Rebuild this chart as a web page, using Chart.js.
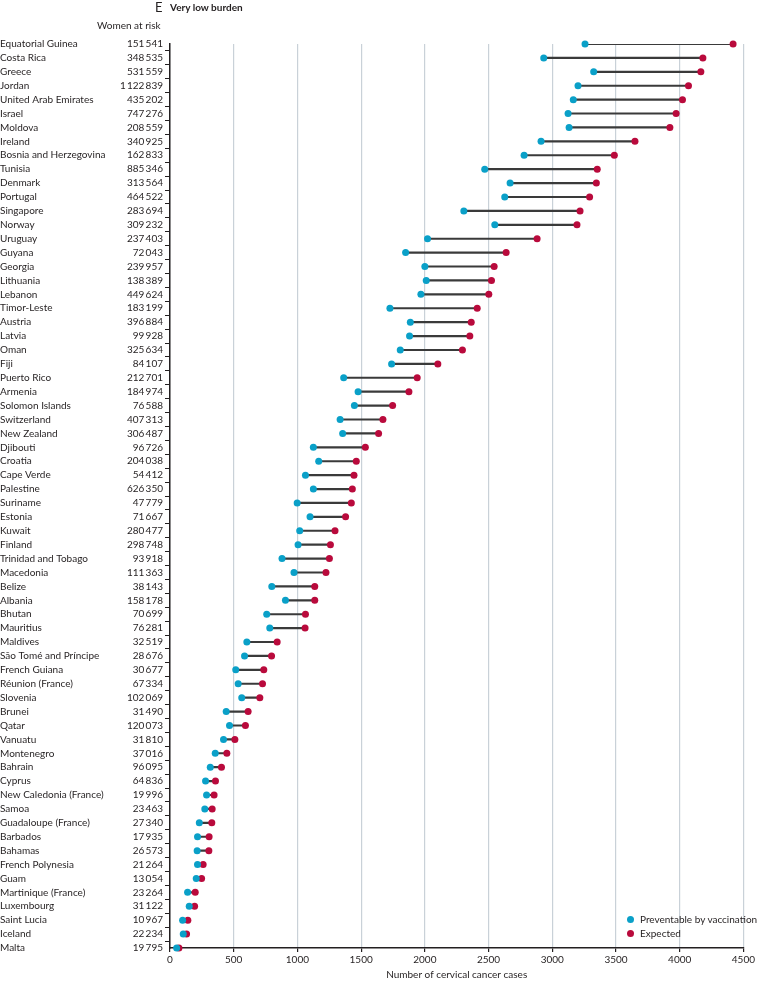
<!DOCTYPE html>
<html>
<head>
<meta charset="utf-8">
<script src="https://cdn.jsdelivr.net/npm/chart.js@4/dist/chart.umd.min.js"></script>
<style>
    body { margin: 0; background: #fff; }
    #wrap { position: relative; width: 757px; height: 981px; font-family: Lato, sans-serif; color: #231f20; }
    .txt { position: absolute; white-space: nowrap; font-size: 10px; line-height: 12px; }
    .dot { display: inline-block; width: 7px; height: 7px; border-radius: 50%; position: absolute; }
</style>
</head>
<body>
<div id="wrap">
    <canvas id="dumbbell"></canvas>
    <div class="txt" style="left:155px; top:0px; font-size:13px; line-height:14px;">E</div>
    <div class="txt" style="left:170px; top:1px; font-weight:bold;">Very low burden</div>
    <div class="txt" style="left:97px; top:19px;">Women at risk</div>
    <span class="dot" style="left:627px; top:916px; background:#0aa0c8;"></span>
    <div class="txt" style="left:640px; top:913px;">Preventable by vaccination</div>
    <span class="dot" style="left:627px; top:930px; background:#b90a3c;"></span>
    <div class="txt" style="left:640px; top:927px;">Expected</div>
</div>
<script>
// ==============================================================
// data
// ==============================================================
var countries = [
    'Equatorial Guinea', 'Costa Rica', 'Greece', 'Jordan', 'United Arab Emirates', 'Israel', 'Moldova', 'Ireland',
    'Bosnia and Herzegovina', 'Tunisia', 'Denmark', 'Portugal', 'Singapore', 'Norway', 'Uruguay', 'Guyana',
    'Georgia', 'Lithuania', 'Lebanon', 'Timor-Leste', 'Austria', 'Latvia', 'Oman', 'Fiji', 'Puerto Rico',
    'Armenia', 'Solomon Islands', 'Switzerland', 'New Zealand', 'Djibouti', 'Croatia', 'Cape Verde', 'Palestine',
    'Suriname', 'Estonia', 'Kuwait', 'Finland', 'Trinidad and Tobago', 'Macedonia', 'Belize', 'Albania', 'Bhutan',
    'Mauritius', 'Maldives', 'São Tomé and Príncipe', 'French Guiana', 'Réunion (France)', 'Slovenia', 'Brunei',
    'Qatar', 'Vanuatu', 'Montenegro', 'Bahrain', 'Cyprus', 'New Caledonia (France)', 'Samoa', 'Guadaloupe (France)',
    'Barbados', 'Bahamas', 'French Polynesia', 'Guam', 'Martinique (France)', 'Luxembourg', 'Saint Lucia',
    'Iceland', 'Malta'
];

var womenAtRisk = [
    151541, 348535, 531559, 1122839, 435202, 747276, 208559, 340925, 162833, 885346,
    313564, 464522, 283694, 309232, 237403, 72043, 239957, 138389, 449624, 183199,
    396884, 99928, 325634, 84107, 212701, 184974, 76588, 407313, 306487, 96726,
    204038, 54412, 626350, 47779, 71667, 280477, 298748, 93918, 111363, 38143,
    158178, 70699, 76281, 32519, 28676, 30677, 67334, 102069, 31490, 120073,
    31810, 37016, 96095, 64836, 19996, 23463, 27340, 17935, 26573, 21264,
    13054, 23264, 31122, 10967, 22234, 19795
];

var preventable = [
    3257, 2933, 3325, 3202, 3165, 3124, 3132, 2912, 2779, 2470,
    2669, 2627, 2306, 2549, 2021, 1849, 2000, 2011, 1969, 1726,
    1886, 1880, 1807, 1739, 1363, 1476, 1447, 1335, 1355, 1125,
    1167, 1063, 1125, 998, 1099, 1018, 1005, 879, 973, 799,
    906, 759, 783, 603, 585, 516, 535, 563, 441, 467,
    420, 355, 316, 279, 287, 273, 230, 216, 213, 216,
    206, 138, 151, 99, 104, 52
];

var expected = [
    4419, 4182, 4166, 4069, 4022, 3972, 3923, 3649, 3487, 3353,
    3346, 3293, 3218, 3194, 2881, 2638, 2544, 2523, 2502, 2411,
    2364, 2353, 2295, 2102, 1940, 1875, 1747, 1671, 1637, 1533,
    1462, 1444, 1431, 1423, 1378, 1295, 1259, 1251, 1224, 1136,
    1136, 1063, 1060, 841, 797, 736, 726, 705, 613, 592,
    509, 446, 404, 357, 346, 331, 328, 307, 305, 260,
    248, 198, 193, 140, 130, 70
];

var xTicks = [0, 500, 1000, 1500, 2000, 2500, 3000, 3500, 4000, 4500];

function thinSpace(n) {
    return String(n).replace(/\B(?=(\d{3})+(?!\d))/g, '\u2009');
}

var ranges = preventable.map(function (p, i) { return [p, expected[i]]; });

Chart.defaults.font.family = 'Lato, sans-serif';
Chart.defaults.font.size = 10;
Chart.defaults.color = '#231f20';

var ctx = document.getElementById('dumbbell').getContext('2d');
new Chart(ctx, {
    type: 'bar',
    data: {
        labels: countries,
        datasets: [{
            type: 'line',
            label: 'Preventable by vaccination',
            data: preventable,
            showLine: false,
            pointRadius: 3.5,
            pointHoverRadius: 3.5,
            pointBorderWidth: 0,
            pointBackgroundColor: '#0aa0c8',
            backgroundColor: '#0aa0c8',
            clip: false,
            order: 0
        }, {
            type: 'line',
            label: 'Expected',
            data: expected,
            showLine: false,
            pointRadius: 3.5,
            pointHoverRadius: 3.5,
            pointBorderWidth: 0,
            pointBackgroundColor: '#b90a3c',
            backgroundColor: '#b90a3c',
            clip: false,
            order: 1
        }, {
            label: 'range',
            data: ranges,
            backgroundColor: '#3a3a3a',
            barThickness: 1.5,
            order: 2
        }]
    },
    options: {
        indexAxis: 'y',
        responsive: true,
        maintainAspectRatio: false,
        animation: false,
        layout: {
            padding: { top: 44, right: 11, bottom: 0, left: 0 }
        },
        plugins: {
            legend: { display: false },
            tooltip: { enabled: false }
        },
        scales: {
            x: {
                type: 'linear',
                min: 0,
                max: 4500,
                afterBuildTicks: function (scale) {
                    scale.ticks = xTicks.map(function (v) { return { value: v }; });
                },
                ticks: {
                    padding: 2,
                    maxRotation: 0,
                    callback: function (v) { return String(v); }
                },
                grid: {
                    color: '#c9d1d8',
                    lineWidth: 1.2,
                    tickColor: '#231f20',
                    tickLength: 4
                },
                border: {
                    color: '#231f20',
                    width: 1.5
                },
                title: {
                    display: true,
                    text: 'Number of cervical cancer cases',
                    font: { size: 10 },
                    padding: { top: 1, bottom: 0 }
                }
            },
            y: {
                type: 'category',
                offset: false,
                weight: 0,
                afterFit: function (scale) { scale.width = 55; },
                ticks: {
                    autoSkip: false,
                    padding: 2,
                    callback: function (v, i) { return thinSpace(womenAtRisk[i]); }
                },
                grid: {
                    drawOnChartArea: false,
                    tickColor: '#231f20',
                    tickLength: 5
                },
                border: {
                    color: '#231f20',
                    width: 1.5
                }
            },
            y2: {
                type: 'category',
                position: 'left',
                labels: countries,
                offset: false,
                weight: 1,
                afterFit: function (scale) { scale.width = 115; },
                ticks: {
                    autoSkip: false,
                    crossAlign: 'far',
                    padding: 0
                },
                grid: { display: false },
                border: { display: false }
            }
        }
    }
});
</script>
</body>
</html>
